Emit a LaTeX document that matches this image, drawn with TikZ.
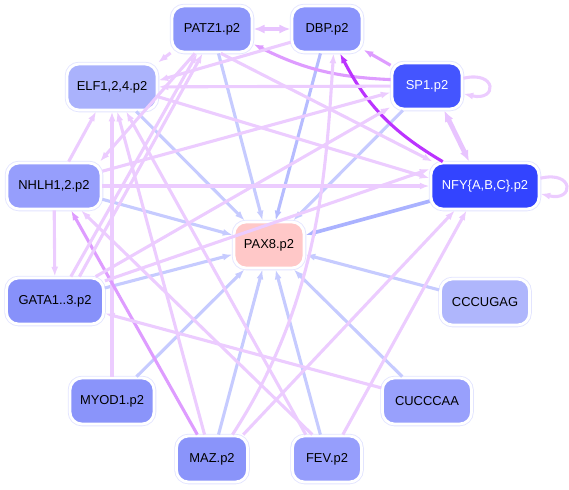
\documentclass[tikz,border=0pt]{standalone}
\usepackage{fontspec}
\setmainfont{Liberation Sans}
\usetikzlibrary{arrows.meta}

% node fills
\definecolor{patzFill}{RGB}{140,150,250}
\definecolor{dbpFill}{RGB}{138,148,252}
\definecolor{elfFill}{RGB}{170,178,252}
\definecolor{spFill}{RGB}{68,85,255}
\definecolor{nfyFill}{RGB}{51,68,255}
\definecolor{nhlhFill}{RGB}{150,158,252}
\definecolor{gataFill}{RGB}{135,145,250}
\definecolor{cccFill}{RGB}{175,182,252}
\definecolor{myodFill}{RGB}{138,148,250}
\definecolor{cucFill}{RGB}{152,160,252}
\definecolor{mazFill}{RGB}{138,148,250}
\definecolor{fevFill}{RGB}{150,158,252}
\definecolor{paxFill}{RGB}{255,200,200}
\definecolor{nodeRim}{RGB}{226,228,255}

% edge colours
\definecolor{blueEdge}{RGB}{198,203,255}
\definecolor{blueMid}{RGB}{182,188,255}
\definecolor{blueDeep}{RGB}{170,178,255}
\definecolor{lavEdge}{RGB}{236,204,255}
\definecolor{lavThick}{RGB}{232,196,255}
\definecolor{magEdge}{RGB}{222,156,255}
\definecolor{darkEdge}{RGB}{187,51,255}

\begin{document}
\begin{tikzpicture}[x=0.025cm, y=-0.025cm,
    >={Latex[length=7pt, width=5pt]},
    motif/.style={rounded corners=8.5pt, minimum width=#1*0.025cm,
        minimum height=46*0.025cm, inner sep=0pt,
        font=\fontsize{9.2}{11}\selectfont,
        draw=white, line width=2pt,
        preaction={draw=nodeRim, line width=3.2pt}},
    bedge/.style={->, draw=blueEdge, line width=2.2pt},
    ledge/.style={->, draw=lavEdge, line width=2.2pt},
    medge/.style={->, draw=magEdge, line width=2.2pt},
    dedge/.style={->, draw=darkEdge, line width=2.2pt},
    bothedge/.style={{Latex[length=8pt, width=6.5pt]}-{Latex[length=8pt, width=6.5pt]},
        draw=lavThick, line width=3.4pt}]

    \useasboundingbox (0,0) rectangle (569,489);

    % ── Motif nodes (circle round PAX8) ─────────────────────────────────────
    \node[motif=80, fill=patzFill] (patz) at (212,29) {PATZ1.p2};
    \node[motif=70, fill=dbpFill] (dbp) at (327,29) {DBP.p2};
    \node[motif=90, fill=elfFill] (elf) at (112,87) {ELF1,2,4.p2};
    \node[motif=70, fill=spFill, text=white] (sp) at (427,86) {SP1.p2};
    \node[motif=94, fill=nhlhFill] (nhlh) at (54,186) {NHLH1,2.p2};
    \node[motif=108, fill=nfyFill, text=white] (nfy) at (485,186) {NFY\{A,B,C\}.p2};
    \node[motif=70, fill=paxFill] (pax) at (269,245) {PAX8.p2};
    \node[motif=97, fill=gataFill] (gata) at (55,301) {GATA1..3.p2};
    \node[motif=89, fill=cccFill] (ccc) at (485,302) {CCCUGAG};
    \node[motif=84, fill=myodFill] (myod) at (112,401) {MYOD1.p2};
    \node[motif=89, fill=cucFill] (cuc) at (427,401) {CUCCCAA};
    \node[motif=71, fill=mazFill] (maz) at (212,459) {MAZ.p2};
    \node[motif=69, fill=fevFill] (fev) at (327,459) {FEV.p2};

    % ── Edges into PAX8 ─────────────────────────────────────────────────────
    \foreach \src in {patz, elf, sp, nhlh, gata, ccc, myod, cuc, maz, fev}
        \draw[bedge] (\src) -- (pax);
    \draw[bedge, draw=blueMid] (dbp) -- (pax);
    \draw[bedge, draw=blueDeep, line width=2.6pt] (nfy) -- (pax);

    % ── Top of the circle ──────────────────────────────────────────────────
    \draw[bothedge] (patz) -- (dbp);
    \draw[bothedge] (sp.-55) -- (nfy.123);
    \draw[medge] (sp.170) to[bend left=12] (patz.-20);
    \draw[medge] (sp) -- (dbp);
    \draw[dedge] (nfy.150) to[bend left=16] (dbp.-62);
    \draw[ledge] (sp.12) .. controls +(34,-8) and +(34,8) .. (sp.-12);
    \draw[ledge] (nfy.8) .. controls +(34,-8) and +(34,8) .. (nfy.-8);

    % ── Into ELF ───────────────────────────────────────────────────────────
    \draw[ledge] (sp) -- (elf);
    \draw[ledge] (dbp.200) -- (elf.8);
    \draw[ledge] (patz.210) -- (elf.28);
    \draw[ledge] (nhlh.59) -- (elf.-123);
    \draw[ledge] (myod) -- (elf);
    \draw[ledge] (maz.107) -- (elf.-78);
    \draw[ledge] (fev.131) -- (elf.-60);

    % ── Into NHLH and GATA ─────────────────────────────────────────────────
    \draw[ledge] (patz.235) -- (nhlh.28);
    \draw[medge] (maz.121) -- (nhlh.-55);
    \draw[ledge] (fev.121) -- (nhlh.-42);
    \draw[ledge] (nhlh) -- (gata);
    \draw[ledge] (cuc.164) -- (gata.-14);

    % ── Long edges to the right ────────────────────────────────────────────
    \draw[ledge] (gata.57) -- (patz.-121);
    \draw[ledge] (gata.45) -- (patz.-111);
    \draw[ledge] (gata.31) -- (sp.-150);
    \draw[ledge] (nhlh.17) -- (sp.190);
    \draw[ledge] (gata.22) -- (nfy.163);
    \draw[ledge] (elf.-12) -- (nfy.172);
    \draw[ledge] (nhlh) -- (nfy);
    \draw[ledge] (patz.-70) -- (nfy.155);
    \draw[ledge] (maz.38) -- (nfy.-141);
    \draw[ledge] (fev.57) -- (nfy.-127);
    \draw[ledge] (maz.50) .. controls (320,300) and (326,170) .. (dbp.-75);

\end{tikzpicture}
\end{document}
